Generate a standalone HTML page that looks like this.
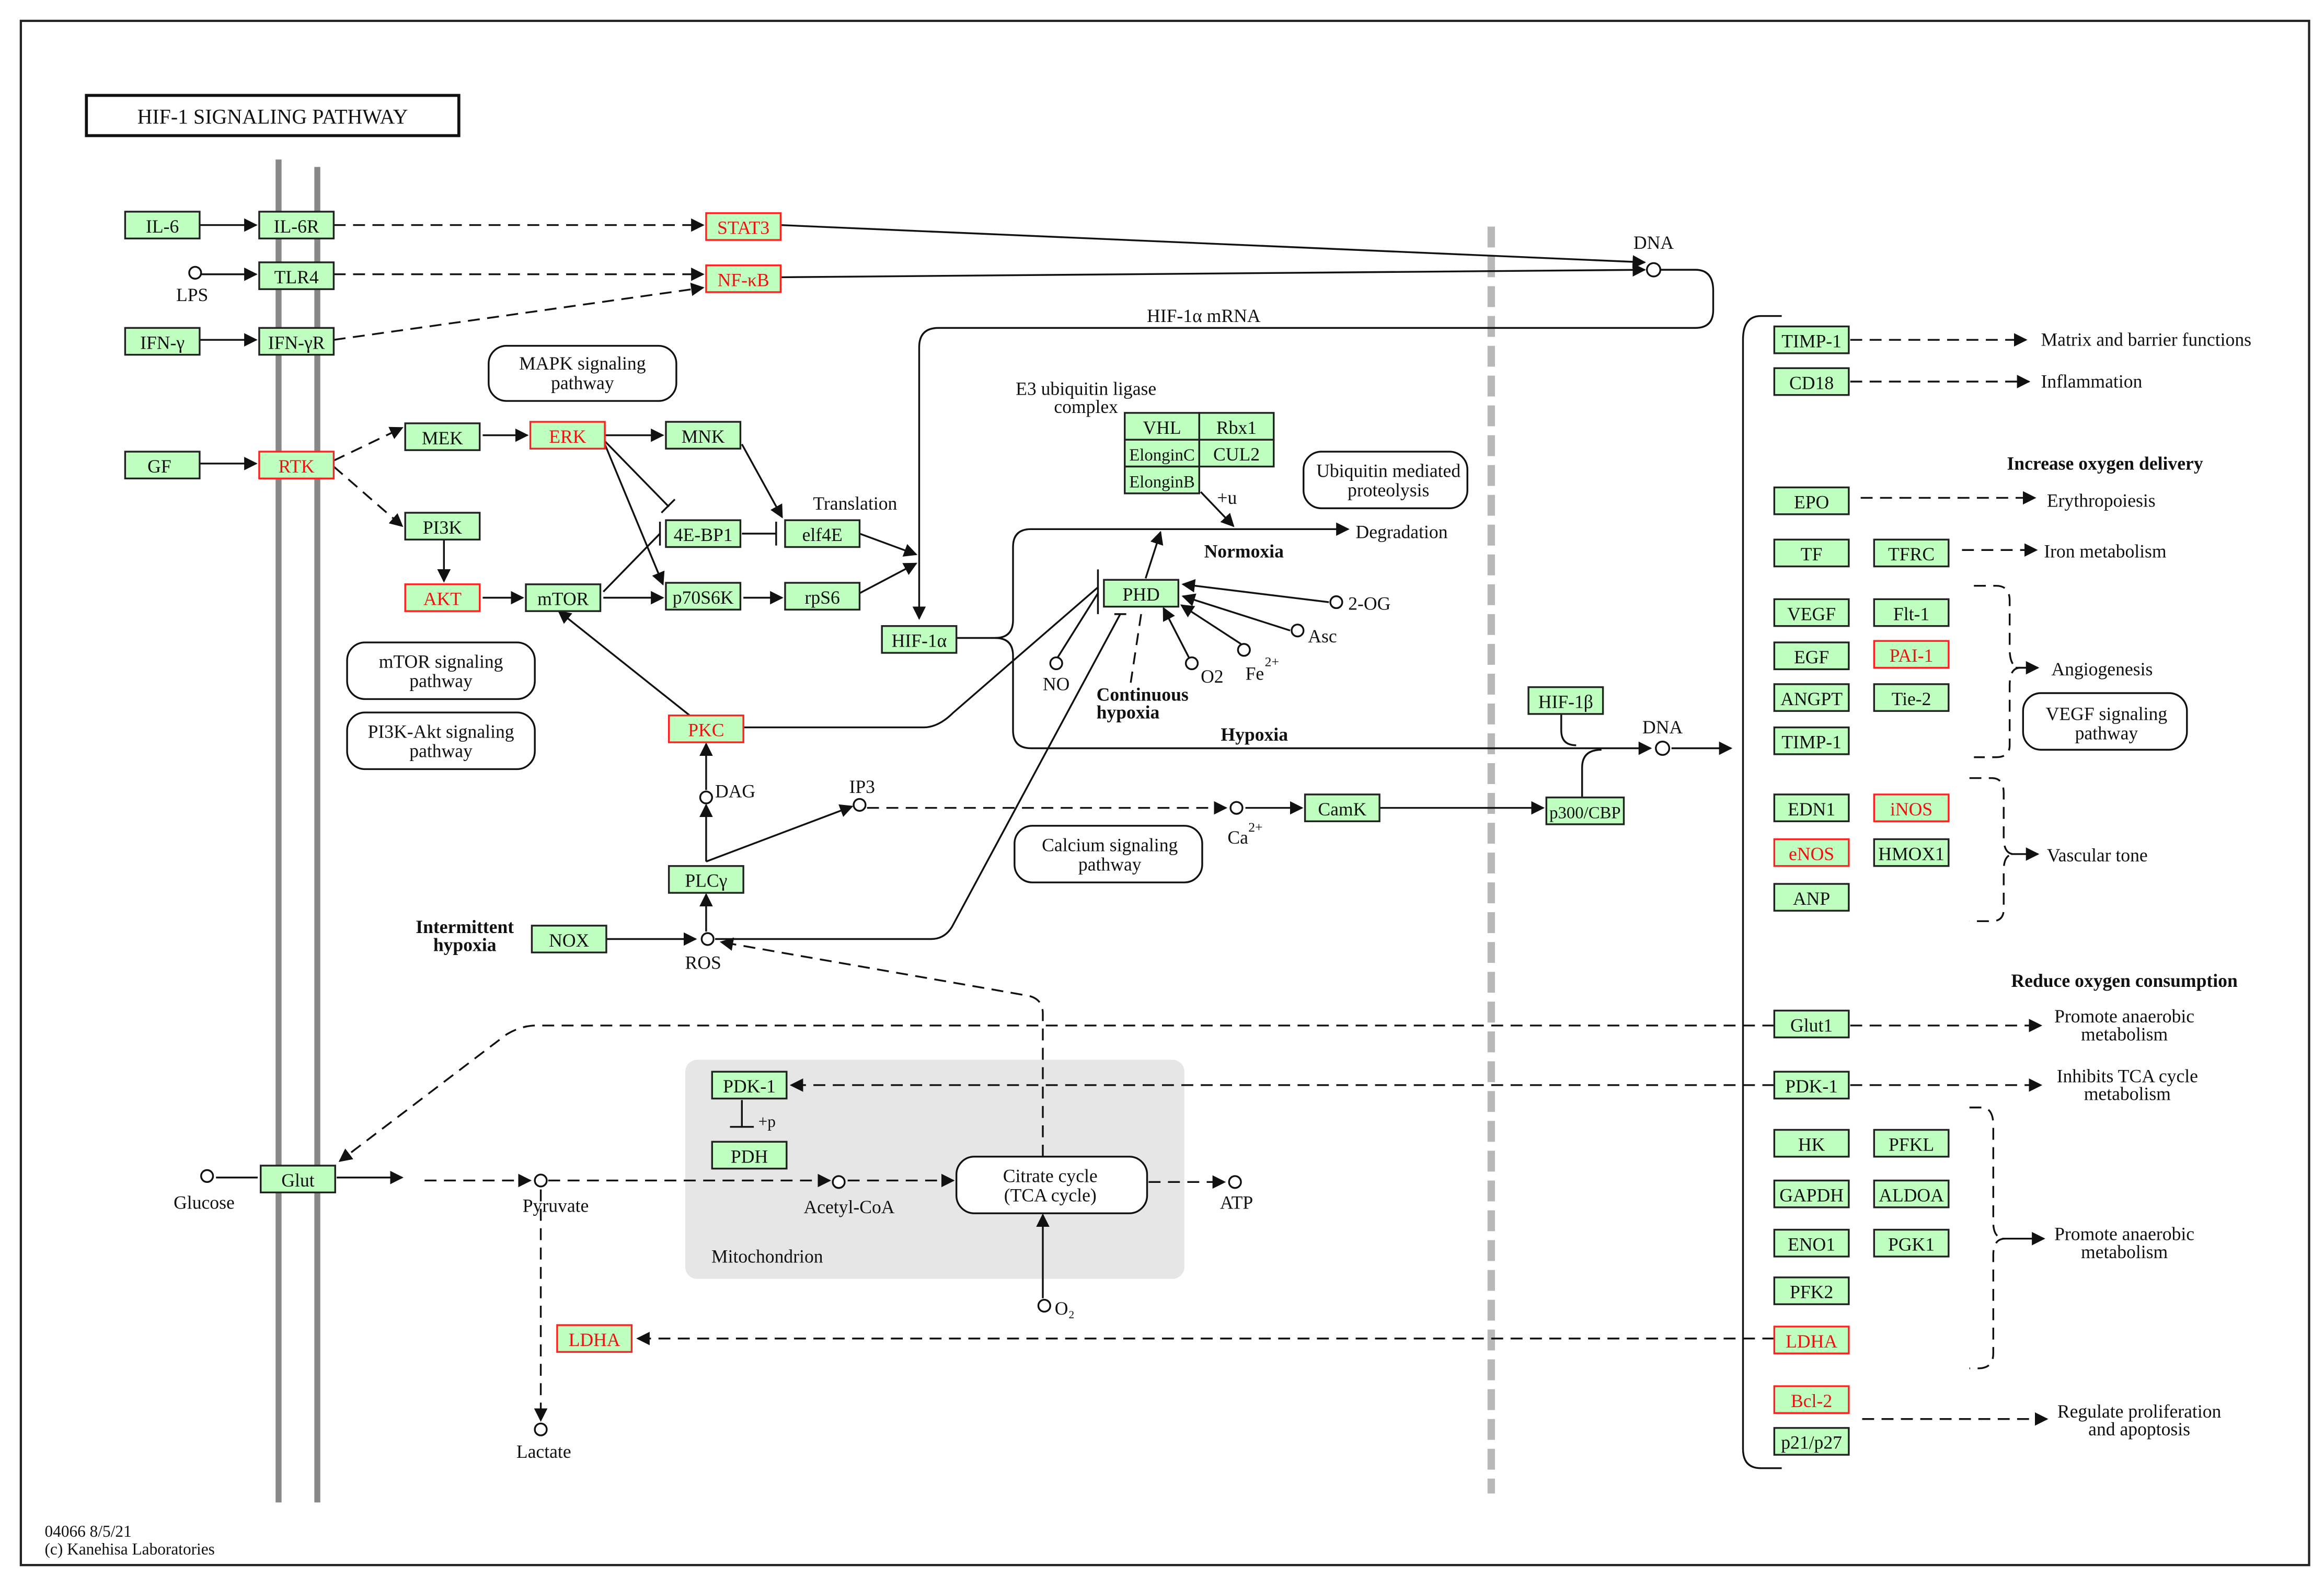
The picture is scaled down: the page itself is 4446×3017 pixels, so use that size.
<!DOCTYPE html>
<html><head><meta charset="utf-8"><style>
html,body{margin:0;padding:0;background:#fff}
svg{display:block}
text{font-family:"Liberation Serif",serif;font-size:12.5px;fill:#111}
.b{fill:#bfffbf;stroke:#222;stroke-width:1.2}
.r{fill:#bfffbf;stroke:#f22;stroke-width:1.2}
.rt{fill:#e11}
.l{fill:none;stroke:#111;stroke-width:1.2}
.d{fill:none;stroke:#111;stroke-width:1.2;stroke-dasharray:8 5}
.p{fill:#fff;stroke:#111;stroke-width:1.2}
.c{fill:#fff;stroke:#111;stroke-width:1.2}
.bold{font-weight:bold}
</style></head><body>
<svg width="4446" height="3017" viewBox="0 0 1560 1058" preserveAspectRatio="none" xmlns="http://www.w3.org/2000/svg">
<defs><marker id="a" viewBox="0 0 10 10" refX="9" refY="5" markerWidth="9" markerHeight="9" markerUnits="userSpaceOnUse" orient="auto"><path d="M0,0L10,5L0,10z" fill="#111"/></marker></defs>
<rect x="0" y="0" width="1560" height="1058" fill="#fff"/>
<rect x="14" y="14" width="1536" height="1036" fill="none" stroke="#222" stroke-width="1.5"/>
<rect x="58" y="64" width="250" height="27" fill="#fff" stroke="#111" stroke-width="2"/>
<text x="183" y="83" text-anchor="middle" style="font-size:14px">HIF-1 SIGNALING PATHWAY</text>

<!-- mitochondrion -->
<rect x="460" y="711" width="335" height="147" rx="8" fill="#e6e6e6"/>
<text x="515" y="847" text-anchor="middle">Mitochondrion</text>

<!-- membranes -->
<line x1="187" y1="107" x2="187" y2="1008" stroke="#888" stroke-width="4"/>
<line x1="213" y1="112" x2="213" y2="1008" stroke="#888" stroke-width="4"/>
<line x1="1001" y1="152" x2="1001" y2="1002" stroke="#b8b8b8" stroke-width="5" stroke-dasharray="14 6"/>

<!-- right bracket -->
<path class="l" d="M1196,212 H1182 Q1170,212 1170,228 V972 Q1170,985 1182,985 H1196"/>

<!-- edges -->
<g>
<line class="l" x1="134" y1="151" x2="172" y2="151" marker-end="url(#a)"/>
<line class="d" x1="224" y1="151" x2="472" y2="151" marker-end="url(#a)"/>
<line class="l" x1="134" y1="184" x2="172" y2="184" marker-end="url(#a)"/>
<line class="d" x1="224" y1="184" x2="472" y2="184" marker-end="url(#a)"/>
<line class="l" x1="134" y1="228" x2="172" y2="228" marker-end="url(#a)"/>
<line class="d" x1="224" y1="228" x2="472" y2="193" marker-end="url(#a)"/>
<line class="l" x1="134" y1="311" x2="172" y2="311" marker-end="url(#a)"/>
<line class="l" x1="524" y1="151" x2="1104" y2="176" marker-end="url(#a)"/>
<line class="l" x1="524" y1="186" x2="1104" y2="181" marker-end="url(#a)"/>
<path class="l" d="M1115,181 H1138 Q1150,181 1150,195 V208 Q1150,220 1138,220 H630 Q617,220 617,233 V415" marker-end="url(#a)"/>
<line class="d" x1="224" y1="309" x2="270" y2="287" marker-end="url(#a)"/>
<line class="d" x1="224" y1="313" x2="270" y2="353" marker-end="url(#a)"/>
<line class="l" x1="324" y1="292" x2="354" y2="292" marker-end="url(#a)"/>
<line class="l" x1="406" y1="292" x2="445" y2="292" marker-end="url(#a)"/>
<line class="l" x1="298" y1="362" x2="298" y2="390" marker-end="url(#a)"/>
<line class="l" x1="324" y1="401" x2="351" y2="401" marker-end="url(#a)"/>
<line class="l" x1="405" y1="401" x2="445" y2="401" marker-end="url(#a)"/>
<line class="l" x1="405" y1="397" x2="443" y2="358"/><line class="l" x1="443" y1="350" x2="443" y2="366"/>
<line class="l" x1="406" y1="296" x2="449" y2="340"/><line class="l" x1="444" y1="344" x2="453" y2="335"/>
<line class="l" x1="406" y1="298" x2="445" y2="392" marker-end="url(#a)"/>
<line class="l" x1="498" y1="298" x2="525" y2="347" marker-end="url(#a)"/>
<line class="l" x1="498" y1="358" x2="521" y2="358"/><line class="l" x1="521" y1="350" x2="521" y2="366"/>
<line class="l" x1="499" y1="401" x2="525" y2="401" marker-end="url(#a)"/>
<line class="l" x1="577" y1="358" x2="615" y2="372" marker-end="url(#a)"/>
<line class="l" x1="577" y1="398" x2="615" y2="378" marker-end="url(#a)"/>
<path class="l" d="M642,428 H668 Q680,428 680,416 V367 Q680,355 692,355 H905" marker-end="url(#a)"/>
<path class="l" d="M668,428 Q680,428 680,440 V490 Q680,502 692,502 H1108" marker-end="url(#a)"/>
<line class="l" x1="1122" y1="502" x2="1162" y2="502" marker-end="url(#a)"/>
<path class="l" d="M1048,478 V490 Q1048,500 1058,500"/>
<path class="l" d="M1062,535 V515 Q1062,503 1075,503"/>
<line class="l" x1="806" y1="330" x2="828" y2="353" marker-end="url(#a)"/>
<line class="l" x1="769" y1="388" x2="779" y2="357" marker-end="url(#a)"/>
<line class="l" x1="892" y1="404" x2="794" y2="392" marker-end="url(#a)"/>
<line class="l" x1="866" y1="423" x2="794" y2="400" marker-end="url(#a)"/>
<line class="l" x1="833" y1="432" x2="793" y2="406" marker-end="url(#a)"/>
<line class="l" x1="798" y1="441" x2="781" y2="408" marker-end="url(#a)"/>
<line class="l" x1="737" y1="382" x2="737" y2="412"/>
<line class="l" x1="710" y1="441" x2="737" y2="398"/>
<path class="l" d="M499,488 H620 Q630,488 640,478 L737,394"/>
<line class="d" x1="748" y1="412" x2="759" y2="412"/>
<line class="d" x1="766" y1="412" x2="759" y2="458"/>
<path class="l" d="M480,630 H625 Q635,630 640,620 L752,412"/>
<line class="l" x1="474" y1="578" x2="474" y2="540" marker-end="url(#a)"/>
<line class="l" x1="474" y1="530" x2="474" y2="499" marker-end="url(#a)"/>
<line class="l" x1="474" y1="578" x2="572" y2="541" marker-end="url(#a)"/>
<line class="l" x1="474" y1="625" x2="474" y2="600" marker-end="url(#a)"/>
<line class="l" x1="407" y1="630" x2="467" y2="630" marker-end="url(#a)"/>
<line class="l" x1="463" y1="480" x2="375" y2="410" marker-end="url(#a)"/>
<line class="d" x1="582" y1="542" x2="823" y2="542" marker-end="url(#a)"/>
<line class="l" x1="836" y1="542" x2="874" y2="542" marker-end="url(#a)"/>
<line class="l" x1="926" y1="542" x2="1036" y2="542" marker-end="url(#a)"/>
<path class="d" d="M700,776 V680 Q700,670 690,668 L484,632" marker-end="url(#a)"/>
<path class="d" d="M1191,688 H360 Q350,688 340,694 L228,779" marker-end="url(#a)"/>
<line class="d" x1="1242" y1="688" x2="1370" y2="688" marker-end="url(#a)"/>
<line class="d" x1="1191" y1="728" x2="531" y2="728" marker-end="url(#a)"/>
<line class="d" x1="1242" y1="728" x2="1370" y2="728" marker-end="url(#a)"/>
<line class="l" x1="498" y1="738" x2="498" y2="756"/><line class="l" x1="490" y1="756" x2="506" y2="756"/>
<text x="509" y="756" style="font-size:11px">+p</text>
<line class="l" x1="145" y1="790" x2="173" y2="790"/>
<line class="l" x1="226" y1="790" x2="270" y2="790" marker-end="url(#a)"/>
<line class="d" x1="285" y1="792" x2="356" y2="792" marker-end="url(#a)"/>
<line class="d" x1="368" y1="792" x2="557" y2="792" marker-end="url(#a)"/>
<line class="d" x1="569" y1="792" x2="640" y2="792" marker-end="url(#a)"/>
<line class="d" x1="771" y1="793" x2="822" y2="793" marker-end="url(#a)"/>
<line class="l" x1="700" y1="871" x2="700" y2="815" marker-end="url(#a)"/>
<line class="d" x1="363" y1="798" x2="363" y2="953" marker-end="url(#a)"/>
<line class="d" x1="1191" y1="898" x2="428" y2="898" marker-end="url(#a)"/>
<line class="l" x1="136" y1="184" x2="172" y2="184"/>
<line class="d" x1="1242" y1="228" x2="1360" y2="228" marker-end="url(#a)"/>
<line class="d" x1="1242" y1="256" x2="1362" y2="256" marker-end="url(#a)"/>
<line class="d" x1="1249" y1="334" x2="1366" y2="334" marker-end="url(#a)"/>
<line class="d" x1="1317" y1="369" x2="1367" y2="369" marker-end="url(#a)"/>
<path class="d" d="M1325,393 H1340 Q1349,393 1349,403 V435 Q1349,448 1356,448 Q1349,448 1349,460 V500 Q1349,508 1340,508 H1325"/>
<line class="l" x1="1353" y1="448" x2="1368" y2="448" marker-end="url(#a)"/>
<path class="d" d="M1322,522 H1337 Q1345,522 1345,532 V562 Q1345,573 1352,573 Q1345,573 1345,584 V610 Q1345,618 1337,618 H1322"/>
<line class="l" x1="1350" y1="573" x2="1368" y2="573" marker-end="url(#a)"/>
<path class="d" d="M1322,743 H1330 Q1338,743 1338,755 V820 Q1338,831 1346,831 Q1338,831 1338,842 V908 Q1338,918 1328,918 H1322"/>
<line class="l" x1="1344" y1="831" x2="1372" y2="831" marker-end="url(#a)"/>
<line class="d" x1="1250" y1="952" x2="1374" y2="952" marker-end="url(#a)"/>
</g>

<!-- circles -->
<g>
<circle class="c" cx="131" cy="183" r="4"/>
<circle class="c" cx="1110" cy="181" r="4.5"/>
<circle class="c" cx="1116" cy="502" r="4.5"/>
<circle class="c" cx="897" cy="404" r="4"/>
<circle class="c" cx="871" cy="423" r="4"/>
<circle class="c" cx="835" cy="436" r="4"/>
<circle class="c" cx="800" cy="445" r="4"/>
<circle class="c" cx="709" cy="445" r="4"/>
<circle class="c" cx="474" cy="535" r="4"/>
<circle class="c" cx="577" cy="540" r="4"/>
<circle class="c" cx="830" cy="542" r="4"/>
<circle class="c" cx="475" cy="630" r="4"/>
<circle class="c" cx="139" cy="789" r="4"/>
<circle class="c" cx="363" cy="792" r="4"/>
<circle class="c" cx="563" cy="793" r="4"/>
<circle class="c" cx="829" cy="793" r="4"/>
<circle class="c" cx="701" cy="876" r="4"/>
<circle class="c" cx="363" cy="959" r="4"/>
</g>

<!-- pathway boxes -->
<g>
<rect class="p" x="328" y="232" width="126" height="37" rx="12"/><text x="391" y="248" text-anchor="middle">MAPK signaling</text><text x="391" y="261" text-anchor="middle">pathway</text>
<rect class="p" x="233" y="431" width="126" height="38" rx="12"/><text x="296" y="448" text-anchor="middle">mTOR signaling</text><text x="296" y="461" text-anchor="middle">pathway</text>
<rect class="p" x="233" y="478" width="126" height="38" rx="12"/><text x="296" y="495" text-anchor="middle">PI3K-Akt signaling</text><text x="296" y="508" text-anchor="middle">pathway</text>
<rect class="p" x="875" y="303" width="110" height="38" rx="12"/><text x="932" y="320" text-anchor="middle">Ubiquitin mediated</text><text x="932" y="333" text-anchor="middle">proteolysis</text>
<rect class="p" x="681" y="554" width="126" height="38" rx="12"/><text x="745" y="571" text-anchor="middle">Calcium signaling</text><text x="745" y="584" text-anchor="middle">pathway</text>
<rect class="p" x="1358" y="465" width="110" height="38" rx="12"/><text x="1414" y="483" text-anchor="middle">VEGF signaling</text><text x="1414" y="496" text-anchor="middle">pathway</text>
<rect class="p" x="642" y="776" width="128" height="38" rx="12"/><text x="705" y="793" text-anchor="middle">Citrate cycle</text><text x="705" y="806" text-anchor="middle">(TCA cycle)</text>
</g>

<!-- gene boxes -->
<g>
<rect class="b" x="84" y="142" width="50" height="18"/><text x="109" y="156" text-anchor="middle">IL-6</text>
<rect class="b" x="174" y="142" width="50" height="18"/><text x="199" y="156" text-anchor="middle">IL-6R</text>
<rect class="r" x="474" y="143" width="50" height="18"/><text class="rt" x="499" y="157" text-anchor="middle">STAT3</text>
<rect class="b" x="174" y="176" width="50" height="18"/><text x="199" y="190" text-anchor="middle">TLR4</text>
<rect class="r" x="474" y="178" width="50" height="18"/><text class="rt" x="499" y="192" text-anchor="middle">NF-κB</text>
<rect class="b" x="84" y="220" width="50" height="18"/><text x="109" y="234" text-anchor="middle">IFN-γ</text>
<rect class="b" x="174" y="220" width="50" height="18"/><text x="199" y="234" text-anchor="middle">IFN-γR</text>
<rect class="b" x="84" y="303" width="50" height="18"/><text x="107" y="317" text-anchor="middle">GF</text>
<rect class="r" x="174" y="303" width="50" height="18"/><text class="rt" x="199" y="317" text-anchor="middle">RTK</text>
<rect class="b" x="272" y="284" width="50" height="18"/><text x="297" y="298" text-anchor="middle">MEK</text>
<rect class="r" x="356" y="283" width="50" height="18"/><text class="rt" x="381" y="297" text-anchor="middle">ERK</text>
<rect class="b" x="447" y="283" width="50" height="18"/><text x="472" y="297" text-anchor="middle">MNK</text>
<rect class="b" x="272" y="344" width="50" height="18"/><text x="297" y="358" text-anchor="middle">PI3K</text>
<rect class="r" x="272" y="392" width="50" height="18"/><text class="rt" x="297" y="406" text-anchor="middle">AKT</text>
<rect class="b" x="353" y="392" width="50" height="18"/><text x="378" y="406" text-anchor="middle">mTOR</text>
<rect class="b" x="447" y="349" width="50" height="18"/><text x="472" y="363" text-anchor="middle">4E-BP1</text>
<rect class="b" x="527" y="349" width="50" height="18"/><text x="552" y="363" text-anchor="middle">elf4E</text>
<rect class="b" x="447" y="391" width="50" height="18"/><text x="472" y="405" text-anchor="middle">p70S6K</text>
<rect class="b" x="527" y="391" width="50" height="18"/><text x="552" y="405" text-anchor="middle">rpS6</text>
<rect class="b" x="592" y="420" width="50" height="18"/><text x="617" y="434" text-anchor="middle">HIF-1α</text>
<rect class="r" x="449" y="480" width="50" height="18"/><text class="rt" x="474" y="494" text-anchor="middle">PKC</text>
<rect class="b" x="449" y="581" width="50" height="18"/><text x="474" y="595" text-anchor="middle">PLCγ</text>
<rect class="b" x="357" y="621" width="50" height="18"/><text x="382" y="635" text-anchor="middle">NOX</text>
<rect class="b" x="755" y="277" width="50" height="18"/><text x="780" y="291" text-anchor="middle">VHL</text>
<rect class="b" x="805" y="277" width="50" height="18"/><text x="830" y="291" text-anchor="middle">Rbx1</text>
<rect class="b" x="755" y="295" width="50" height="18"/><text x="780" y="309" text-anchor="middle" style="font-size:11.5px">ElonginC</text>
<rect class="b" x="805" y="295" width="50" height="18"/><text x="830" y="309" text-anchor="middle">CUL2</text>
<rect class="b" x="755" y="313" width="50" height="18"/><text x="780" y="327" text-anchor="middle" style="font-size:11.5px">ElonginB</text>
<rect class="b" x="741" y="389" width="50" height="18"/><text x="766" y="403" text-anchor="middle">PHD</text>
<rect class="b" x="1026" y="461" width="50" height="18"/><text x="1051" y="475" text-anchor="middle">HIF-1β</text>
<rect class="b" x="876" y="533" width="50" height="18"/><text x="901" y="547" text-anchor="middle">CamK</text>
<rect class="b" x="1038" y="535" width="52" height="18"/><text x="1064" y="549" text-anchor="middle" style="font-size:11.5px">p300/CBP</text>
<rect class="b" x="478" y="719" width="50" height="18"/><text x="503" y="733" text-anchor="middle">PDK-1</text>
<rect class="b" x="478" y="766" width="50" height="18"/><text x="503" y="780" text-anchor="middle">PDH</text>
<rect class="b" x="175" y="782" width="50" height="18"/><text x="200" y="796" text-anchor="middle">Glut</text>
<rect class="r" x="374" y="889" width="50" height="18"/><text class="rt" x="399" y="903" text-anchor="middle">LDHA</text>

<rect class="b" x="1191" y="219" width="50" height="18"/><text x="1216" y="233" text-anchor="middle">TIMP-1</text>
<rect class="b" x="1191" y="247" width="50" height="18"/><text x="1216" y="261" text-anchor="middle">CD18</text>
<rect class="b" x="1191" y="327" width="50" height="18"/><text x="1216" y="341" text-anchor="middle">EPO</text>
<rect class="b" x="1191" y="362" width="50" height="18"/><text x="1216" y="376" text-anchor="middle">TF</text>
<rect class="b" x="1191" y="402" width="50" height="18"/><text x="1216" y="416" text-anchor="middle">VEGF</text>
<rect class="b" x="1191" y="431" width="50" height="18"/><text x="1216" y="445" text-anchor="middle">EGF</text>
<rect class="b" x="1191" y="459" width="50" height="18"/><text x="1216" y="473" text-anchor="middle">ANGPT</text>
<rect class="b" x="1191" y="488" width="50" height="18"/><text x="1216" y="502" text-anchor="middle">TIMP-1</text>
<rect class="b" x="1191" y="533" width="50" height="18"/><text x="1216" y="547" text-anchor="middle">EDN1</text>
<rect class="r" x="1191" y="563" width="50" height="18"/><text class="rt" x="1216" y="577" text-anchor="middle">eNOS</text>
<rect class="b" x="1191" y="593" width="50" height="18"/><text x="1216" y="607" text-anchor="middle">ANP</text>
<rect class="b" x="1191" y="678" width="50" height="18"/><text x="1216" y="692" text-anchor="middle">Glut1</text>
<rect class="b" x="1191" y="719" width="50" height="18"/><text x="1216" y="733" text-anchor="middle">PDK-1</text>
<rect class="b" x="1191" y="758" width="50" height="18"/><text x="1216" y="772" text-anchor="middle">HK</text>
<rect class="b" x="1191" y="792" width="50" height="18"/><text x="1216" y="806" text-anchor="middle">GAPDH</text>
<rect class="b" x="1191" y="825" width="50" height="18"/><text x="1216" y="839" text-anchor="middle">ENO1</text>
<rect class="b" x="1191" y="857" width="50" height="18"/><text x="1216" y="871" text-anchor="middle">PFK2</text>
<rect class="r" x="1191" y="890" width="50" height="18"/><text class="rt" x="1216" y="904" text-anchor="middle">LDHA</text>
<rect class="r" x="1191" y="930" width="50" height="18"/><text class="rt" x="1216" y="944" text-anchor="middle">Bcl-2</text>
<rect class="b" x="1191" y="958" width="50" height="18"/><text x="1216" y="972" text-anchor="middle">p21/p27</text>
<rect class="b" x="1258" y="362" width="50" height="18"/><text x="1283" y="376" text-anchor="middle">TFRC</text>
<rect class="b" x="1258" y="402" width="50" height="18"/><text x="1283" y="416" text-anchor="middle">Flt-1</text>
<rect class="r" x="1258" y="430" width="50" height="18"/><text class="rt" x="1283" y="444" text-anchor="middle">PAI-1</text>
<rect class="b" x="1258" y="459" width="50" height="18"/><text x="1283" y="473" text-anchor="middle">Tie-2</text>
<rect class="r" x="1258" y="533" width="50" height="18"/><text class="rt" x="1283" y="547" text-anchor="middle">iNOS</text>
<rect class="b" x="1258" y="563" width="50" height="18"/><text x="1283" y="577" text-anchor="middle">HMOX1</text>
<rect class="b" x="1258" y="758" width="50" height="18"/><text x="1283" y="772" text-anchor="middle">PFKL</text>
<rect class="b" x="1258" y="792" width="50" height="18"/><text x="1283" y="806" text-anchor="middle">ALDOA</text>
<rect class="b" x="1258" y="825" width="50" height="18"/><text x="1283" y="839" text-anchor="middle">PGK1</text>
</g>

<!-- labels -->
<g>
<text x="129" y="202" text-anchor="middle">LPS</text>
<text x="1110" y="167" text-anchor="middle">DNA</text>
<text x="808" y="216" text-anchor="middle">HIF-1α mRNA</text>
<text x="729" y="265" text-anchor="middle">E3 ubiquitin ligase</text>
<text x="729" y="277" text-anchor="middle">complex</text>
<text x="817" y="338">+u</text>
<text x="574" y="342" text-anchor="middle">Translation</text>
<text x="910" y="361">Degradation</text>
<text class="bold" x="835" y="374" text-anchor="middle">Normoxia</text>
<text x="905" y="409">2-OG</text>
<text x="878" y="431">Asc</text>
<text x="836" y="456">Fe</text><text x="849" y="447" style="font-size:9px">2+</text>
<text x="806" y="458">O2</text>
<text x="709" y="463" text-anchor="middle">NO</text>
<text class="bold" x="736" y="470">Continuous</text>
<text class="bold" x="736" y="482">hypoxia</text>
<text class="bold" x="842" y="497" text-anchor="middle">Hypoxia</text>
<text x="1116" y="492" text-anchor="middle">DNA</text>
<text x="480" y="535">DAG</text>
<text x="570" y="532">IP3</text>
<text x="824" y="566">Ca</text><text x="838" y="558" style="font-size:9px">2+</text>
<text class="bold" x="312" y="626" text-anchor="middle">Intermittent</text>
<text class="bold" x="312" y="638" text-anchor="middle">hypoxia</text>
<text x="472" y="650" text-anchor="middle">ROS</text>
<text x="137" y="811" text-anchor="middle">Glucose</text>
<text x="373" y="813" text-anchor="middle">Pyruvate</text>
<text x="570" y="814" text-anchor="middle">Acetyl-CoA</text>
<text x="830" y="811" text-anchor="middle">ATP</text>
<text x="708" y="882">O₂</text>
<text x="365" y="978" text-anchor="middle">Lactate</text>
<text x="1370" y="232">Matrix and barrier functions</text>
<text x="1370" y="260">Inflammation</text>
<text class="bold" x="1413" y="315" text-anchor="middle">Increase oxygen delivery</text>
<text x="1374" y="340">Erythropoiesis</text>
<text x="1372" y="374">Iron metabolism</text>
<text x="1377" y="453">Angiogenesis</text>
<text x="1374" y="578">Vascular tone</text>
<text class="bold" x="1426" y="662" text-anchor="middle">Reduce oxygen consumption</text>
<text x="1426" y="686" text-anchor="middle">Promote anaerobic</text>
<text x="1426" y="698" text-anchor="middle">metabolism</text>
<text x="1428" y="726" text-anchor="middle">Inhibits TCA cycle</text>
<text x="1428" y="738" text-anchor="middle">metabolism</text>
<text x="1426" y="832" text-anchor="middle">Promote anaerobic</text>
<text x="1426" y="844" text-anchor="middle">metabolism</text>
<text x="1436" y="951" text-anchor="middle">Regulate proliferation</text>
<text x="1436" y="963" text-anchor="middle">and apoptosis</text>
<text x="30" y="1031" style="font-size:11px">04066 8/5/21</text>
<text x="30" y="1043" style="font-size:11px">(c) Kanehisa Laboratories</text>
</g>
</svg>
</body></html>
